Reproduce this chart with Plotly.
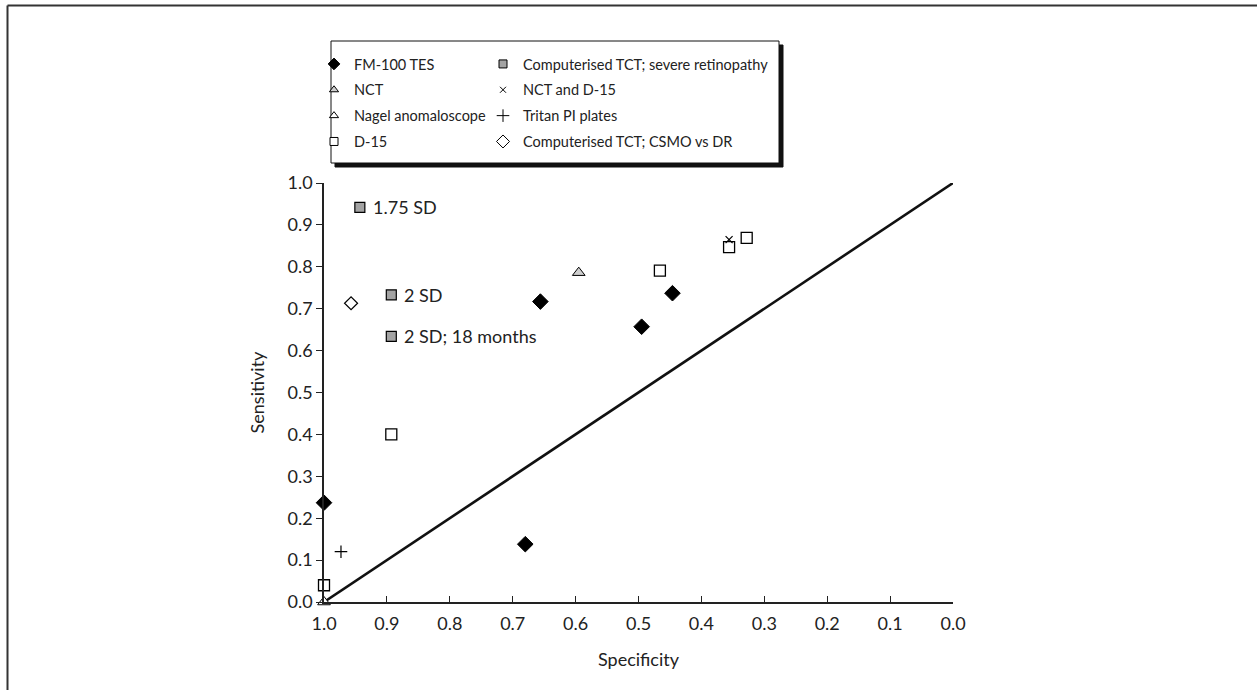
import plotly.graph_objects as go

W, H = 1257, 690
ML, MR, MT, MB = 324, 304, 183, 88
PW, PH = W - ML - MR, H - MT - MB
FONT = "Lato"

# ---------------- data ----------------
fm100_spec = [1.0, 0.680, 0.656, 0.495, 0.446]
fm100_sens = [0.237, 0.138, 0.717, 0.657, 0.737]

nct_spec = [0.595]
nct_sens = [0.786]

nagel_spec = [1.0]
nagel_sens = [0.0]

d15_spec = [1.0, 0.893, 0.466, 0.356, 0.328]
d15_sens = [0.040, 0.400, 0.791, 0.847, 0.869]

tct_spec = [0.943, 0.893, 0.893]
tct_sens = [0.942, 0.733, 0.634]
tct_labels = ["1.75 SD", "2 SD", "2 SD; 18 months"]

nctd15_spec = [0.356]
nctd15_sens = [0.865]

tritan_spec = [0.973]
tritan_sens = [0.120]

csmo_spec = [0.957]
csmo_sens = [0.713]

chance_spec = [1.0, 0.0]
chance_sens = [0.0, 1.0]

tick_vals = [0.0, 0.1, 0.2, 0.3, 0.4, 0.5, 0.6, 0.7, 0.8, 0.9, 1.0]
tick_text = ["0.0", "0.1", "0.2", "0.3", "0.4", "0.5", "0.6", "0.7", "0.8", "0.9", "1.0"]


def px(x):
    return (x - ML) / PW


def py(y):
    return (H - MB - y) / PH


GREY_SQ = "#a3a3a3"
GREY_TRI = "#cfcfcf"
TXT = "#222222"

series = [
    # name, spec, sens, symbol, size, fill, linewidth, legend, legend size
    ("FM-100 TES", fm100_spec, fm100_sens, "diamond", 12, "black", 1, "legend", 9),
    ("NCT", nct_spec, nct_sens, "triangle-up", 11, GREY_TRI, 1, "legend", 8),
    ("Nagel anomaloscope", nagel_spec, nagel_sens, "triangle-up", 11, "white", 1, "legend", 8),
    ("D-15", d15_spec, d15_sens, "square", 11, "white", 1.3, "legend", 8),
    ("Computerised TCT; severe retinopathy", tct_spec, tct_sens, "square", 10, GREY_SQ, 1.2, "legend2", 8),
    ("NCT and D-15", nctd15_spec, nctd15_sens, "x-thin", 7, "black", 1.2, "legend2", 6),
    ("Tritan PI plates", tritan_spec, tritan_sens, "cross-thin", 9, "black", 1.2, "legend2", 9),
    ("Computerised TCT; CSMO vs DR", csmo_spec, csmo_sens, "diamond", 10, "white", 1.2, "legend2", 10),
]

fig = go.Figure()

fig.add_trace(go.Scatter(
    x=chance_spec, y=chance_sens, mode="lines",
    line=dict(color="#111111", width=2.6), showlegend=False,
    hoverinfo="skip", cliponaxis=False,
))

for i, (name, xs, ys, sym, size, fill, lw, leg, lsize) in enumerate(series):
    fig.add_trace(go.Scatter(
        x=xs, y=ys, mode="markers", name=name, showlegend=False,
        marker=dict(symbol=sym, size=size, color=fill,
                    line=dict(color="black", width=lw)),
        cliponaxis=False,
    ))
    # legend entry
    fig.add_trace(go.Scatter(
        x=[None], y=[None], mode="markers", name=name, legend=leg,
        legendgroup=name,
        marker=dict(symbol=sym, size=lsize, color=fill,
                    line=dict(color="black", width=1)),
    ))

for xs, ys, lab in zip(tct_spec, tct_sens, tct_labels):
    fig.add_annotation(
        x=xs, y=ys, text=lab, showarrow=False, xanchor="left", yanchor="middle",
        xshift=11, font=dict(family=FONT, size=18, color=TXT),
    )

shapes = []
# outer frame (top & left)
shapes.append(dict(type="line", xref="paper", yref="paper", x0=px(7.5), x1=px(W + 5),
                   y0=py(5.5), y1=py(5.5), line=dict(color="#333333", width=2)))
shapes.append(dict(type="line", xref="paper", yref="paper", x0=px(7.5), x1=px(7.5),
                   y0=py(5.5), y1=py(H + 5), line=dict(color="#333333", width=2)))
# legend box shadow + box
shapes.append(dict(type="rect", xref="paper", yref="paper", x0=px(335), x1=px(783),
                   y0=py(45), y1=py(167), fillcolor="#111111",
                   line=dict(color="#111111", width=1), layer="above"))
shapes.append(dict(type="rect", xref="paper", yref="paper", x0=px(331), x1=px(779),
                   y0=py(41), y1=py(163), fillcolor="white",
                   line=dict(color="#111111", width=1), layer="above"))

legend_common = dict(xanchor="left", yanchor="top", bgcolor="rgba(0,0,0,0)",
                     borderwidth=0, tracegroupgap=4,
                     font=dict(family=FONT, size=14.5, color=TXT))

fig.update_layout(
    width=W, height=H,
    margin=dict(l=ML, r=MR, t=MT, b=MB, autoexpand=False),
    paper_bgcolor="white", plot_bgcolor="white",
    font=dict(family=FONT, color=TXT, size=17),
    shapes=shapes,
    legend=dict(x=px(314), y=py(48), **legend_common),
    legend2=dict(x=px(483), y=py(48), **legend_common),
    xaxis=dict(range=[1.0, 0.0], tickvals=tick_vals, ticktext=tick_text,
               ticks="inside", ticklen=6, tickwidth=1.3, tickcolor=TXT,
               showline=True, linecolor=TXT, linewidth=1.5,
               showgrid=False, zeroline=False, ticklabelstandoff=5,
               tickfont=dict(family=FONT, size=18, color=TXT),
               title=dict(text="Specificity", standoff=20,
                          font=dict(family=FONT, size=18, color=TXT))),
    yaxis=dict(range=[0.0, 1.0], tickvals=tick_vals, ticktext=tick_text,
               ticks="outside", ticklen=6, tickwidth=1.3, tickcolor=TXT,
               showline=True, linecolor=TXT, linewidth=1.5,
               showgrid=False, zeroline=False,
               tickfont=dict(family=FONT, size=18, color=TXT),
               title=dict(text="Sensitivity", standoff=18,
                          font=dict(family=FONT, size=18, color=TXT))),
)

fig.write_html("out.html")
